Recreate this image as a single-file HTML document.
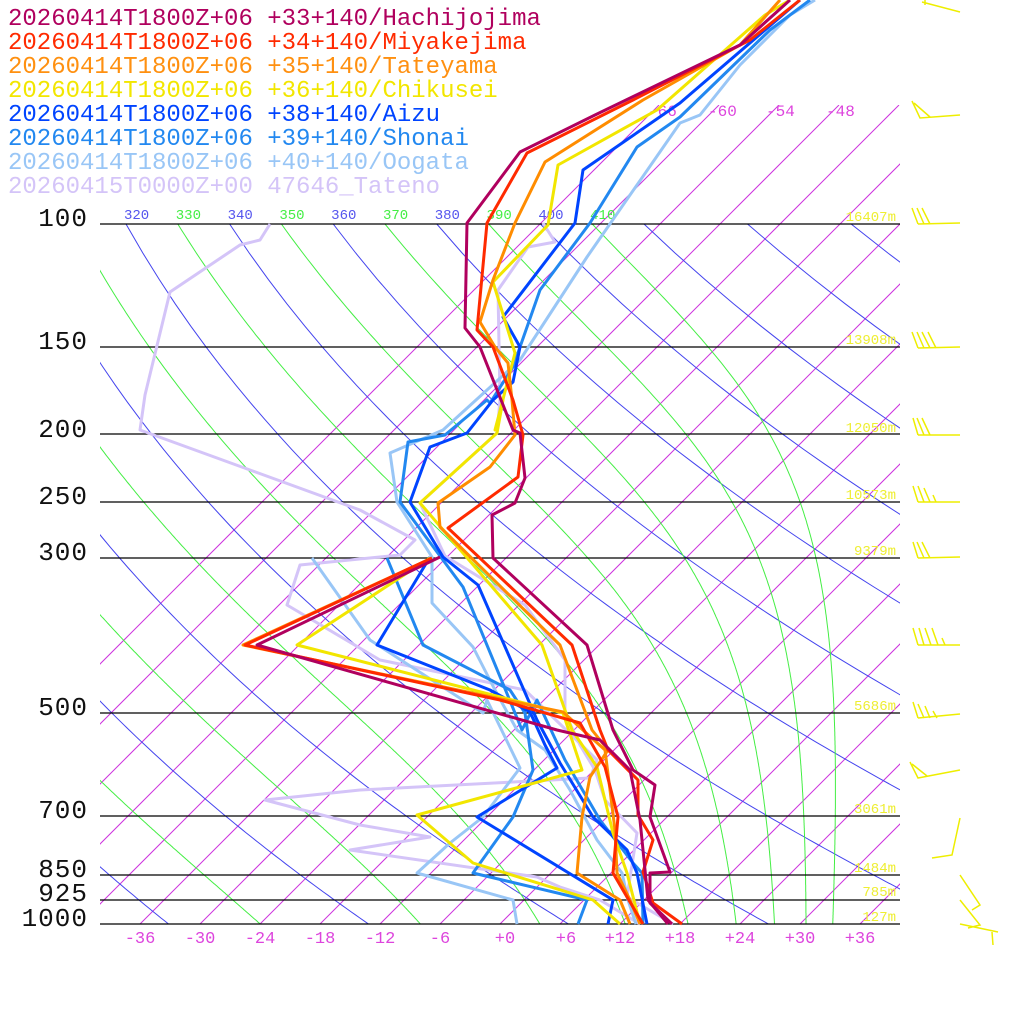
<!DOCTYPE html>
<html><head><meta charset="utf-8"><style>
html,body{margin:0;padding:0;background:#fff;}
svg{display:block;}
text{font-family:"Liberation Mono",monospace;}
</style></head><body>
<svg id="s" width="1024" height="1024" viewBox="0 0 1024 1024" xmlns="http://www.w3.org/2000/svg">
<defs>
<clipPath id="pc"><rect x="100" y="224" width="800" height="700"/></clipPath>
<clipPath id="ic"><rect x="100" y="105" width="800" height="819"/></clipPath>
<clipPath id="lc"><rect x="100" y="190" width="800" height="40"/></clipPath>
</defs>
<rect width="1024" height="1024" fill="#fff"/>
<g id="iso" clip-path="url(#ic)" stroke="#cc33dd" stroke-width="1" fill="none"></g>
<g id="dry" clip-path="url(#pc)" stroke="#4444ee" stroke-width="1" fill="none"></g>
<g id="moist" clip-path="url(#pc)" stroke="#44ee44" stroke-width="1" fill="none"></g>
<g stroke="#000" stroke-width="1.3">
<line x1="100" y1="224" x2="900" y2="224"/><line x1="100" y1="347" x2="900" y2="347"/>
<line x1="100" y1="434" x2="900" y2="434"/><line x1="100" y1="502" x2="900" y2="502"/>
<line x1="100" y1="558" x2="900" y2="558"/><line x1="100" y1="713" x2="900" y2="713"/>
<line x1="100" y1="816" x2="900" y2="816"/><line x1="100" y1="875" x2="900" y2="875"/>
<line x1="100" y1="900" x2="900" y2="900"/><line x1="100" y1="924" x2="900" y2="924"/>
</g>
<g id="lbl" font-size="14" clip-path="url(#lc)"></g>
<g font-size="16" fill="#dd44dd">
<text x="648" y="116">-66</text><text x="708" y="116">-60</text><text x="766" y="116">-54</text><text x="826" y="116">-48</text>
</g>
<g font-size="17" fill="#dd44dd" text-anchor="middle">
<text x="140" y="943">-36</text><text x="200" y="943">-30</text><text x="260" y="943">-24</text><text x="320" y="943">-18</text><text x="380" y="943">-12</text><text x="440" y="943">-6</text><text x="505" y="943">+0</text><text x="566" y="943">+6</text><text x="620" y="943">+12</text><text x="680" y="943">+18</text><text x="740" y="943">+24</text><text x="800" y="943">+30</text><text x="860" y="943">+36</text>
</g>
<g font-size="26" fill="#111" text-anchor="end" letter-spacing="1">
<text x="88" y="226">100</text><text x="88" y="349">150</text><text x="88" y="437">200</text><text x="88" y="504">250</text><text x="88" y="560">300</text><text x="88" y="715">500</text><text x="88" y="818">700</text><text x="88" y="877">850</text><text x="88" y="901">925</text><text x="88" y="926">1000</text>
</g>
<g font-size="14" fill="#eeee33" text-anchor="end">
<text x="896" y="221">16407m</text><text x="896" y="344">13908m</text><text x="896" y="432">12050m</text><text x="896" y="499">10573m</text><text x="896" y="555">9379m</text><text x="896" y="710">5686m</text><text x="896" y="813">3061m</text><text x="896" y="872">1484m</text><text x="896" y="896">785m</text><text x="896" y="921">127m</text>
</g>
<g fill="none" stroke-width="3" stroke-linejoin="round">
<polyline stroke="#d4c4f8" points="673,924 627,897 637,833 605,800 595,770 580,745 565,713 565,660 525,605 445,556 420,503 497,433 500,400 498,290 528,247 555,242 543,223"/>
<polyline stroke="#d4c4f8" points="640,924 600,900 560,887 537,877 350,850 430,837 360,825 265,800 360,790 590,778 597,760 525,690 380,660 287,605 300,565 400,555 415,540 360,510 140,430 145,395 170,292 240,245 260,240 270,224"/>
<polyline stroke="#99c6f6" points="636,924 628,900 622,873 597,840 570,790 545,750 517,730 495,690 473,647 432,603 432,557 397,502 390,453 443,430 520,360 587,257 680,123 700,115 740,65 790,15 815,0"/>
<polyline stroke="#99c6f6" points="517,924 513,900 417,873 450,843 483,817 520,768 487,700 483,713 370,640 312,558"/>
<polyline stroke="#2288f0" points="643,924 642,873 633,863 600,820 565,760 537,700 522,730 463,587 400,502 408,442 445,435 487,400 490,403 513,367 540,290 590,223 637,147 680,117 770,30 810,0"/>
<polyline stroke="#2288f0" points="578,924 587,900 473,873 513,817 533,770 525,713 510,690 423,645 387,558"/>
<polyline stroke="#0044ff" points="647,924 637,873 627,850 593,817 560,763 537,720 478,585 443,557 410,502 430,447 467,433 493,400 513,382 520,347 503,317 575,223 583,170 680,103 800,0"/>
<polyline stroke="#0044ff" points="608,924 613,900 477,817 557,768 545,745 530,712 490,690 377,645 430,557"/>
<polyline stroke="#f2e600" points="640,924 627,873 613,833 597,767 572,730 542,645 420,503 497,433 503,400 495,430 515,353 493,282 548,225 558,165 657,110 765,15 790,0"/>
<polyline stroke="#f2e600" points="620,924 593,900 473,863 417,815 582,770 563,713 297,645 430,558"/>
<polyline stroke="#ff8c00" points="630,924 620,900 577,873 582,817 590,777 608,750 592,730 560,645 440,527 438,503 490,467 515,435 512,400 508,363 495,347 480,322 493,280 515,223 545,162 643,100 740,45 780,0"/>
<polyline stroke="#ff8c00" points="640,924 630,900 617,873 615,830 610,790 605,750 563,712 243,645 432,558"/>
<polyline stroke="#ff2a00" points="682,924 653,903 643,872 653,840 638,815 638,780 608,750 600,730 572,645 448,528 518,477 523,435 513,400 493,347 477,330 487,223 527,153 633,100 750,40 800,0"/>
<polyline stroke="#ff2a00" points="643,924 627,897 613,873 618,817 605,767 580,723 500,700 245,645 432,558"/>
<polyline stroke="#b0005e" points="672,924 650,903 650,873 670,872 650,817 655,785 633,770 613,730 587,645 493,558 492,515 515,503 525,478 520,433 513,430 480,347 465,328 467,223 520,152 595,115 740,45 790,0"/>
<polyline stroke="#b0005e" points="668,924 648,900 645,870 640,820 630,770 600,740 557,730 257,645 440,557"/>
</g>
<g stroke="#eeee00" stroke-width="1.5" fill="none">
<polyline points="922,2 960,12"/><line x1="925" y1="0" x2="925" y2="5"/>
<polyline points="912,101 920,118 960,115"/><line x1="914" y1="103" x2="930" y2="117"/>
<polyline points="918,224 960,223"/><line x1="918" y1="224" x2="912" y2="208"/><line x1="924" y1="224" x2="917" y2="208"/><line x1="930" y1="224" x2="922" y2="208"/>
<polyline points="918,348 960,347"/><line x1="918" y1="348" x2="912" y2="332"/><line x1="924" y1="348" x2="917" y2="332"/><line x1="930" y1="348" x2="922" y2="332"/><line x1="936" y1="348" x2="928" y2="332"/>
<polyline points="918,435 960,435"/><line x1="918" y1="435" x2="913" y2="418"/><line x1="924" y1="435" x2="917" y2="418"/><line x1="930" y1="435" x2="922" y2="418"/>
<polyline points="918,502 960,502"/><line x1="918" y1="502" x2="913" y2="486"/><line x1="924" y1="502" x2="918" y2="486"/><line x1="930" y1="502" x2="924" y2="488"/><line x1="936" y1="502" x2="933" y2="495"/>
<polyline points="918,558 960,557"/><line x1="918" y1="558" x2="913" y2="542"/><line x1="924" y1="558" x2="917" y2="542"/><line x1="930" y1="558" x2="922" y2="542"/>
<polyline points="918,645 960,645"/><line x1="918" y1="645" x2="913" y2="628"/><line x1="924" y1="645" x2="919" y2="628"/><line x1="931" y1="645" x2="925" y2="628"/><line x1="938" y1="645" x2="932" y2="628"/><line x1="945" y1="645" x2="942" y2="638"/>
<polyline points="918,718 960,714"/><line x1="918" y1="718" x2="913" y2="702"/><line x1="924" y1="718" x2="918" y2="704"/><line x1="930" y1="718" x2="925" y2="706"/><line x1="937" y1="718" x2="933" y2="711"/>
<polyline points="910,762 918,778 960,770"/><line x1="912" y1="764" x2="927" y2="776"/>
<polyline points="932,858 952,855 960,818"/>
<polyline points="960,875 980,905 972,910"/>
<polyline points="960,900 980,925 968,928"/><polyline points="960,924 998,932"/><line x1="992" y1="932" x2="993" y2="945"/>
</g>
<g font-size="24">
<text x="8" y="25" fill="#b0005e">20260414T1800Z+06 +33+140/Hachijojima</text>
<text x="8" y="49" fill="#ff2a00">20260414T1800Z+06 +34+140/Miyakejima</text>
<text x="8" y="73" fill="#ff9010">20260414T1800Z+06 +35+140/Tateyama</text>
<text x="8" y="97" fill="#f2e600">20260414T1800Z+06 +36+140/Chikusei</text>
<text x="8" y="121" fill="#0044ff">20260414T1800Z+06 +38+140/Aizu</text>
<text x="8" y="145" fill="#2288f0">20260414T1800Z+06 +39+140/Shonai</text>
<text x="8" y="169" fill="#99c6f6">20260414T1800Z+06 +40+140/Oogata</text>
<text x="8" y="193" fill="#d4c4f8">20260415T0000Z+00 47646_Tateno</text>
</g>
</svg>
<script>
(function(){
var NS="http://www.w3.org/2000/svg";
function yOf(p){return 924-700*Math.log10(1000/p);}
function xOf(T,y){return 500+10*T+(924-y);}
function path(g,pts){var e=document.createElementNS(NS,"polyline");e.setAttribute("points",pts.map(function(a){return a[0].toFixed(1)+","+a[1].toFixed(1);}).join(" "));document.getElementById(g).appendChild(e);}
for(var T=-66;T<=48;T+=6){path("iso",[[xOf(T,924),924],[xOf(T,105),105]]);}
var lbl=document.getElementById("lbl");
function label(x,t,c){var e=document.createElementNS(NS,"text");e.setAttribute("x",x);e.setAttribute("y",219);e.setAttribute("fill",c);e.textContent=t;lbl.appendChild(e);}
for(var th=240;th<=520;th+=20){var pts=[];for(var p=100;p<=1000;p+=10){var y=yOf(p);var Tc=th*Math.pow(p/1000,0.2857)-273.15;pts.push([xOf(Tc,y),y]);}path("dry",pts);var x0=pts[0][0];if(x0>60&&x0<620)label(x0-2,String(th),"#5555ee");}
var Rd=287,Cp=1004,Lv=2.5e6,eps=0.622;
function rs(T,p){var tc=T-273.15;var es=6.112*Math.exp(17.67*tc/(tc+243.5));return eps*es/(p-es);}
for(var th=250;th<=410;th+=20){var p=100,T=th*Math.pow(0.1,0.2857);var pts=[];while(p<=1000.01){var y=yOf(p);pts.push([xOf(T-273.15,y),y]);var r=rs(T,p);var d=(Rd*T+Lv*r)/(p*(Cp+Lv*Lv*r*eps/(Rd*T*T)));T+=d*2;p+=2;}path("moist",pts);var x0=pts[0][0];if(x0>60&&x0<620)label(x0-2,String(th),"#44ee44");}
})();
</script>
</body></html>
